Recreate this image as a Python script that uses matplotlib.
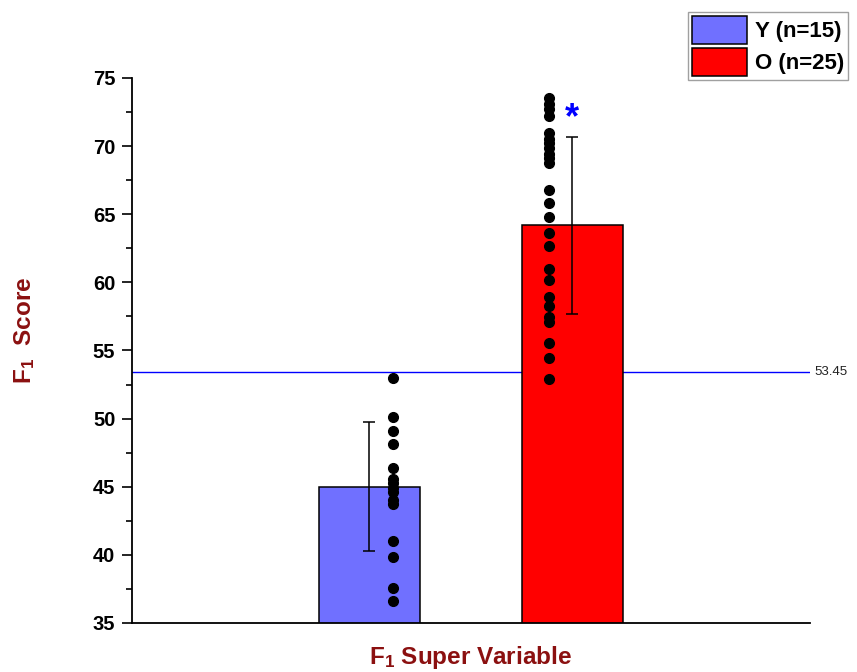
import numpy as np
import matplotlib.pyplot as plt
from matplotlib.patches import Patch

plt.rcParams['font.family'] = ['Liberation Sans', 'DejaVu Sans']
plt.rcParams['mathtext.fontset'] = 'custom'
plt.rcParams['mathtext.bf'] = 'Liberation Sans:bold'
plt.rcParams['mathtext.rm'] = 'Liberation Sans:bold'
plt.rcParams['mathtext.default'] = 'bf'

groups = ['Y (n=15)', 'O (n=25)']
means = [45.0, 64.2]
sds = [4.75, 6.5]
colors = ['#7070ff', '#ff0000']
ref_value = 53.45

young = [53.0, 50.1, 49.1, 48.1, 46.4, 45.6, 45.3, 44.9, 44.6, 44.0, 43.75,
         41.0, 39.85, 37.6, 36.6]
old = [73.5, 73.1, 72.7, 72.2, 70.95, 70.55, 70.2, 69.85, 69.45,
       69.1, 68.75, 66.75, 65.8, 64.8, 63.6, 62.65, 61.0, 60.2, 58.9, 58.25,
       57.45, 57.1, 55.55, 54.45, 52.9]

fig = plt.figure(figsize=(8.57, 6.72), dpi=100)
ax = fig.add_axes([0.154, 0.073, 0.791, 0.811])

pos = np.array([1, 2])
ax.bar(pos, means, width=0.5, color=colors, edgecolor='black', linewidth=1.1, zorder=2)
ax.errorbar(pos, means, yerr=sds, fmt='none', ecolor='black', elinewidth=1.1,
            capsize=4, capthick=1.1, zorder=3)

ax.plot(np.full(len(young), pos[0] + 0.117), young, 'o', color='black', ms=7, zorder=4)
ax.plot(np.full(len(old), pos[1] - 0.117), old, 'o', color='black', ms=7, zorder=4)

ax.axhline(ref_value, color='#0000ff', lw=1, zorder=1)
ax.text(1.007, ref_value, '%.2f' % ref_value, transform=ax.get_yaxis_transform(),
        va='center', ha='left', fontsize=9.5, color='#222222')

ax.text(pos[1], 72.0, '*', color='#0000ff', fontsize=26, fontweight='bold',
        ha='center', va='center')

ax.set_xlim(-0.17, 3.17)
ax.set_ylim(35, 75)
ax.set_yticks(np.arange(35, 76, 5))
ax.set_yticks(np.arange(37.5, 75, 5), minor=True)
ax.set_xticks([])
ax.tick_params(axis='y', which='major', length=7, width=1.2, labelsize=14.5, pad=5)
ax.tick_params(axis='y', which='minor', length=4.5, width=1.2)
for lab in ax.get_yticklabels():
    lab.set_fontweight('bold')
ax.spines['top'].set_visible(False)
ax.spines['right'].set_visible(False)
ax.spines['left'].set_linewidth(1.3)
ax.spines['bottom'].set_linewidth(1.3)

ax.set_ylabel('F$_1$  Score', fontsize=17.5, fontweight='bold', color='#8b1010')
ax.yaxis.set_label_coords(-0.140, 0.536)
ax.set_xlabel('F$_1$ Super Variable', fontsize=17.5, fontweight='bold', color='#8b1010')
ax.xaxis.set_label_coords(0.5, -0.038)

handles = [Patch(facecolor=c, edgecolor='black', linewidth=1.1) for c in colors]
leg = fig.legend(handles, groups, loc='upper right', bbox_to_anchor=(0.990, 0.982),
                 prop={'weight': 'bold', 'size': 16}, fancybox=False,
                 handlelength=2.5, handleheight=1.56, labelspacing=0.18,
                 borderpad=0.18, handletextpad=0.36, borderaxespad=0)
leg.get_frame().set_edgecolor('#888888')
leg.get_frame().set_linewidth(1)

fig.savefig('out.png', dpi=100)
